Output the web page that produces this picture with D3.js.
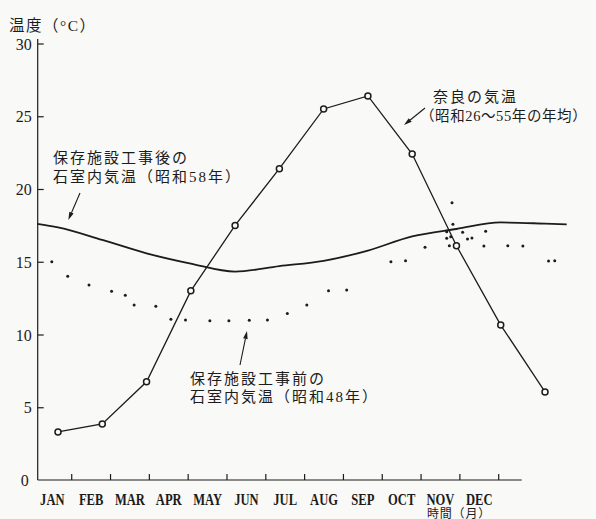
<!DOCTYPE html>
<html>
<head>
<meta charset="utf-8">
<script src="https://cdn.jsdelivr.net/npm/d3@7/dist/d3.min.js"></script>
<style>
  html, body { margin: 0; padding: 0; background: #f9f9f7; }
  svg { display: block; }
  text { fill: #1c1c1c; }
</style>
</head>
<body>
<svg id="chart" width="596" height="519"></svg>
<script>
// Months on the horizontal axis
const months = ["JAN","FEB","MAR","APR","MAY","JUN","JUL","AUG","SEP","OCT","NOV","DEC"];
const yTicks = [0, 5, 10, 15, 20, 25, 30];

// Nara monthly mean air temperature (Showa 26–55)
const naraTemp = [3.3, 3.85, 6.75, 13.0, 17.5, 21.4, 25.5, 26.4, 22.4, 16.1, 10.65, 6.05];

// Chamber air temperature after the conservation works (Showa 58), by month position
const afterMonth = [0.53, 1, 2, 3, 4, 5, 6, 7, 8, 9, 10, 11, 12, 12.49];
const afterTemp  = [17.6, 17.36, 16.5, 15.58, 14.87, 14.32, 14.7, 15.06, 15.77, 16.74, 17.25, 17.7, 17.62, 17.57];

// Chamber air temperature before the works (Showa 48), individual readings
const beforeMonth = [0.86, 1.22, 1.70, 2.21, 2.52, 2.72, 3.21, 3.55, 3.88, 4.43, 4.86, 5.32, 5.73,
                     6.18, 6.62, 7.11, 7.52, 8.52, 8.85, 9.29, 9.78, 9.78, 9.84, 9.87, 9.90, 9.92,
                     10.14, 10.25, 10.35, 10.62, 10.66, 11.16, 11.5, 12.08, 12.22];
const beforeTemp  = [15.0, 14.0, 13.4, 12.97, 12.7, 12.03, 11.94, 11.04, 11.0, 10.95, 10.95, 10.98, 11.0,
                     11.45, 12.03, 13.0, 13.06, 15.0, 15.07, 16.0, 17.07, 16.61, 16.1, 16.72, 19.06, 17.57,
                     17.02, 16.56, 16.63, 16.08, 17.09, 16.1, 16.08, 15.05, 15.07];

const svg = d3.select("#chart");
const ink = "#1c1c1c";
const paper = "#f9f9f7";
const fontMix = "'Liberation Serif', 'Noto Sans CJK JP', serif";

const y = d3.scaleLinear().domain([0, 30]).range([480, 43.5]);
const xBand = d3.scaleBand().domain(months).range([32.9, 498.7]);
const xMonth = d3.scaleLinear().domain([1, 12]).range([58, 545]);
const axisX0 = 37.7;

// Axes
svg.append("line").attr("x1", axisX0).attr("x2", axisX0).attr("y1", y(0)).attr("y2", 39)
  .attr("stroke", ink).attr("stroke-width", 1.2);
svg.append("line").attr("x1", axisX0).attr("x2", 521.7).attr("y1", y(0)).attr("y2", y(0))
  .attr("stroke", ink).attr("stroke-width", 1.2);

const yAxis = svg.append("g").attr("transform", `translate(${axisX0},0)`)
  .call(d3.axisLeft(y).tickValues(yTicks).tickSize(-6).tickSizeOuter(0).tickPadding(12));
yAxis.attr("font-family", null).attr("font-size", null);
yAxis.select(".domain").remove();
yAxis.selectAll(".tick line").attr("stroke", ink).attr("stroke-width", 1.2)
  .attr("display", d => d === 0 ? "none" : null);
yAxis.selectAll(".tick text")
  .attr("font-family", "'Liberation Serif', serif").attr("font-size", 16).attr("fill", ink)
  .attr("x", d => d === 0 ? -9 : -6).attr("dy", "0.35em");

// x ticks at the right edge of each month band
svg.append("g").selectAll("line").data(months).join("line")
  .attr("x1", d => xBand(d) + xBand.bandwidth())
  .attr("x2", d => xBand(d) + xBand.bandwidth())
  .attr("y1", y(0)).attr("y2", y(0) - 6)
  .attr("stroke", ink).attr("stroke-width", 1.2);

svg.append("g").selectAll("text").data(months).join("text")
  .attr("transform", d => `translate(${xBand(d) + xBand.bandwidth() / 2},504.5) scale(0.74,1)`)
  .attr("text-anchor", "middle")
  .attr("font-family", "'Liberation Serif', serif").attr("font-size", 17).attr("font-weight", "bold")
  .text(d => d);

// Axis titles
svg.append("text").attr("x", 9).attr("y", 31)
  .attr("font-family", fontMix).attr("font-size", 15.5).attr("letter-spacing", 1.5)
  .text("温度（°C）");
svg.append("text").attr("x", 427).attr("y", 517.5)
  .attr("font-family", fontMix).attr("font-size", 12)
  .attr("letter-spacing", 0.8)
  .text("時間（月）");

// After-works curve
svg.append("path")
  .datum(afterMonth.map((m, i) => [m, afterTemp[i]]))
  .attr("d", d3.line().x(d => xMonth(d[0])).y(d => y(d[1])).curve(d3.curveMonotoneX))
  .attr("fill", "none").attr("stroke", ink).attr("stroke-width", 1.8);

// Before-works readings
svg.append("g").selectAll("circle").data(beforeMonth).join("circle")
  .attr("cx", d => xMonth(d))
  .attr("cy", (d, i) => y(beforeTemp[i]))
  .attr("r", 1.5).attr("fill", ink);

// Nara temperature line with open markers
const naraPts = months.map((m, i) => [i + 1, naraTemp[i]]);
svg.append("path").datum(naraPts)
  .attr("d", d3.line().x(d => xMonth(d[0])).y(d => y(d[1])))
  .attr("fill", "none").attr("stroke", ink).attr("stroke-width", 1.3);
svg.append("g").selectAll("circle").data(naraPts).join("circle")
  .attr("cx", d => xMonth(d[0])).attr("cy", d => y(d[1]))
  .attr("r", 3).attr("fill", paper).attr("stroke", ink).attr("stroke-width", 1.5);

// Annotation arrows
function arrow(x1, y1, x2, y2) {
  const a = Math.atan2(y2 - y1, x2 - x1);
  const len = 8, half = 2.3;
  const bx = x2 - len * Math.cos(a), by = y2 - len * Math.sin(a);
  svg.append("line").attr("x1", x1).attr("y1", y1).attr("x2", bx).attr("y2", by)
    .attr("stroke", ink).attr("stroke-width", 1.1);
  svg.append("path")
    .attr("d", `M${x2},${y2}L${bx - half * Math.sin(a)},${by + half * Math.cos(a)}L${bx + half * Math.sin(a)},${by - half * Math.cos(a)}Z`)
    .attr("fill", ink);
}
arrow(80, 193, 68.3, 220);
arrow(240, 365, 247, 331);
arrow(425, 108, 404, 125);

// Series labels
function label(x, yPos, txt, size = 15, spacing = 2) {
  svg.append("text").attr("x", x).attr("y", yPos)
    .attr("font-family", fontMix).attr("font-size", size).attr("letter-spacing", spacing)
    .text(txt);
}
label(53, 163, "保存施設工事後の");
label(53, 182, "石室内気温（昭和58年）");
label(190, 384, "保存施設工事前の");
label(190, 402, "石室内気温（昭和48年）");
label(433, 102, "奈良の気温");
label(420, 121, "（昭和26～55年の年均）", 14.5, 0.6);
</script>
</body>
</html>
